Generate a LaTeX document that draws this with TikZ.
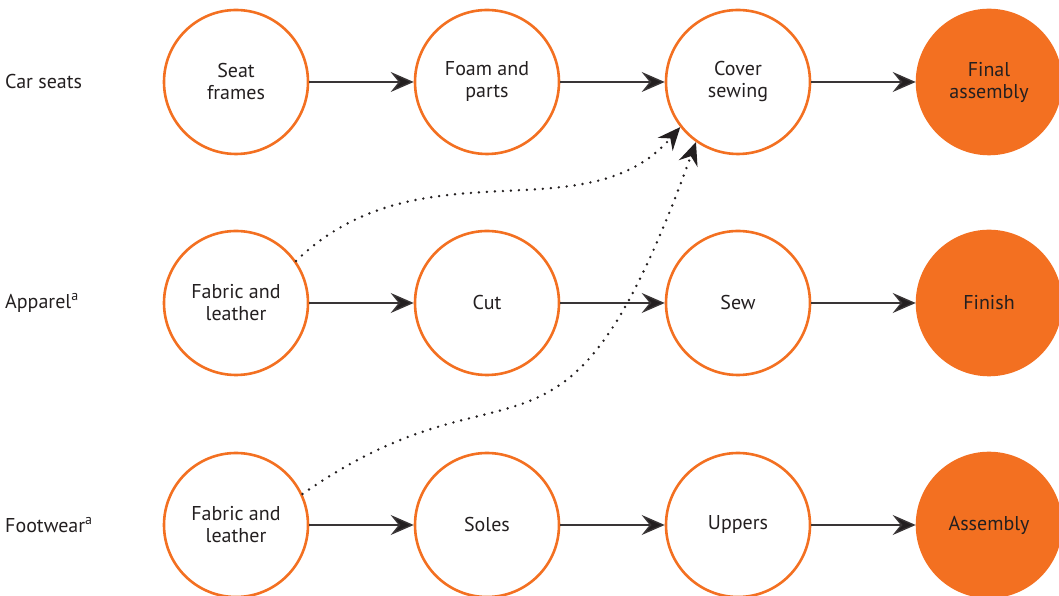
\documentclass[tikz,border=0pt]{standalone}
\usepackage{fontspec}
\setmainfont{PT Sans}
\usetikzlibrary{arrows.meta}
\definecolor{orng}{HTML}{F37021}
\definecolor{ink}{HTML}{231F20}
\begin{document}
\begin{tikzpicture}[x=1pt,y=1pt,
  stage/.style={circle, draw=orng, line width=2.6pt, minimum size=144pt, inner sep=0pt,
     align=center, text=ink, font=\fontsize{20}{22}\selectfont},
  endstage/.style={stage, fill=orng},
  rowlabel/.style={anchor=west, text=ink, inner sep=0pt, font=\fontsize{20}{22}\selectfont},
  flow/.style={draw=ink!90, line width=1.4pt, -{Stealth[length=23pt,width=20pt,inset=8pt,fill=ink]}},
  link/.style={draw=ink, line width=2.7pt, line cap=round, dash pattern=on 0pt off 8pt,
     -{Stealth[length=23pt,width=20pt,inset=8pt,fill=ink,line width=0pt]}}
]
\useasboundingbox (0,0) rectangle (1059,596);
% row 1
\node[rowlabel] (l1) at (5,514) {Car seats};
\node[stage] (a1) at (236,514) {Seat\\frames};
\node[stage] (a2) at (487,514) {Foam and\\parts};
\node[stage] (a3) at (738,514) {Cover\\sewing};
\node[endstage] (a4) at (989,514) {Final\\assembly};
% row 2
\node[rowlabel] (l2) at (5,293) {Apparel\textsuperscript{a}};
\node[stage] (b1) at (236,293) {Fabric and\\leather};
\node[stage] (b2) at (487,293) {Cut};
\node[stage] (b3) at (738,293) {Sew};
\node[endstage] (b4) at (989,293) {Finish};
% row 3
\node[rowlabel] (l3) at (5,71) {Footwear\textsuperscript{a}};
\node[stage] (c1) at (236,71) {Fabric and\\leather};
\node[stage] (c2) at (487,71) {Soles};
\node[stage] (c3) at (738,71) {Uppers};
\node[endstage] (c4) at (989,71) {Assembly};
% flows
\foreach \r in {a,b,c}{
  \draw[flow] (\r1.east) -- (\r2.west);
  \draw[flow] (\r2.east) -- (\r3.west);
  \draw[flow] (\r3.east) -- (\r4.west);
}
% dotted links
\draw[link] (b1.35) .. controls (420,455) and (585,360) .. (a3.218);
\draw[link] (c1.25) .. controls (517,252) and (563,87) .. (a3.235);
\end{tikzpicture}
\end{document}
